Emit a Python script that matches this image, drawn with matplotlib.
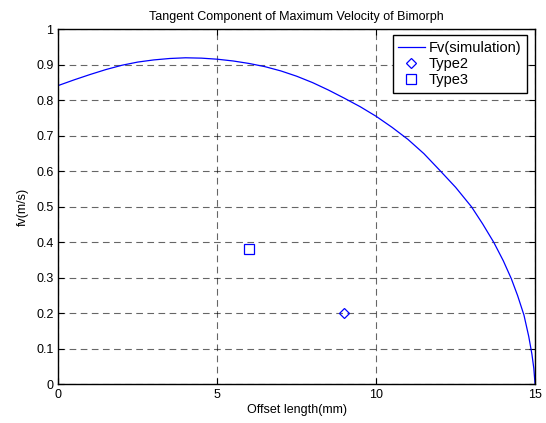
import matplotlib.pyplot as plt

# simulated tangent velocity curve
offset_mm = [0, 0.5, 1, 1.5, 2, 2.5, 3, 3.5, 4, 4.5, 5, 5.5, 6, 6.5, 7, 7.5, 8,
             8.5, 9, 9.5, 10, 10.5, 11, 11.5, 12, 12.5, 13, 13.35, 13.7, 14,
             14.25, 14.45, 14.65, 14.8, 14.9, 14.96, 15]
fv_sim = [0.842, 0.858, 0.873, 0.887, 0.899, 0.908, 0.914, 0.918, 0.920, 0.919,
          0.916, 0.911, 0.904, 0.895, 0.883, 0.868, 0.850, 0.829, 0.806, 0.782,
          0.755, 0.724, 0.690, 0.650, 0.603, 0.555, 0.500, 0.452, 0.400, 0.348,
          0.298, 0.250, 0.195, 0.135, 0.085, 0.045, 0.0]

# measured points
type2_x = [9]
type2_y = [0.2]
type3_x = [6]
type3_y = [0.38]

xticks = [0, 5, 10, 15]
yticks = [0, 0.1, 0.2, 0.3, 0.4, 0.5, 0.6, 0.7, 0.8, 0.9, 1]

plt.rcParams['font.family'] = ['Liberation Sans', 'DejaVu Sans']
plt.rcParams['font.size'] = 9

fig = plt.figure(figsize=(5.46, 4.23), dpi=100)
ax = fig.add_axes([0.107, 0.0915, 0.873, 0.839])

ax.plot(offset_mm, fv_sim, color='blue', lw=0.9, label='Fv(simulation)')
ax.plot(type2_x, type2_y, 'D', mfc='none', mec='blue', ms=5, mew=0.9,
        label='Type2')
ax.plot(type3_x, type3_y, 's', mfc='none', mec='blue', ms=6.5, mew=0.9,
        label='Type3')

ax.set_xlim(0, 15)
ax.set_ylim(0, 1)
ax.set_xticks(xticks)
ax.set_yticks(yticks)
ax.set_yticklabels(['0', '0.1', '0.2', '0.3', '0.4', '0.5', '0.6', '0.7',
                    '0.8', '0.9', '1'])
ax.grid(True, color='black', ls=(0, (6, 4)), lw=0.8, alpha=0.6)
ax.tick_params(direction='in', length=4, width=0.8, top=True, right=True,
               labelsize=9)
for s in ax.spines.values():
    s.set_linewidth(1.0)

ax.set_title('Tangent Component of Maximum Velocity of Bimorph', fontsize=9,
             pad=7)
ax.set_xlabel('Offset length(mm)', fontsize=9, labelpad=2)
ax.set_ylabel('fv(m/s)', fontsize=9, labelpad=5)

leg = ax.legend(loc='upper right', bbox_to_anchor=(0.984, 0.984),
                fontsize=10.5, fancybox=False, framealpha=1,
                edgecolor='black', handlelength=1.8, handletextpad=0.3,
                borderpad=0.4, labelspacing=0.14, borderaxespad=0)
leg.get_frame().set_linewidth(1.0)

fig.savefig('out.png', dpi=100)
